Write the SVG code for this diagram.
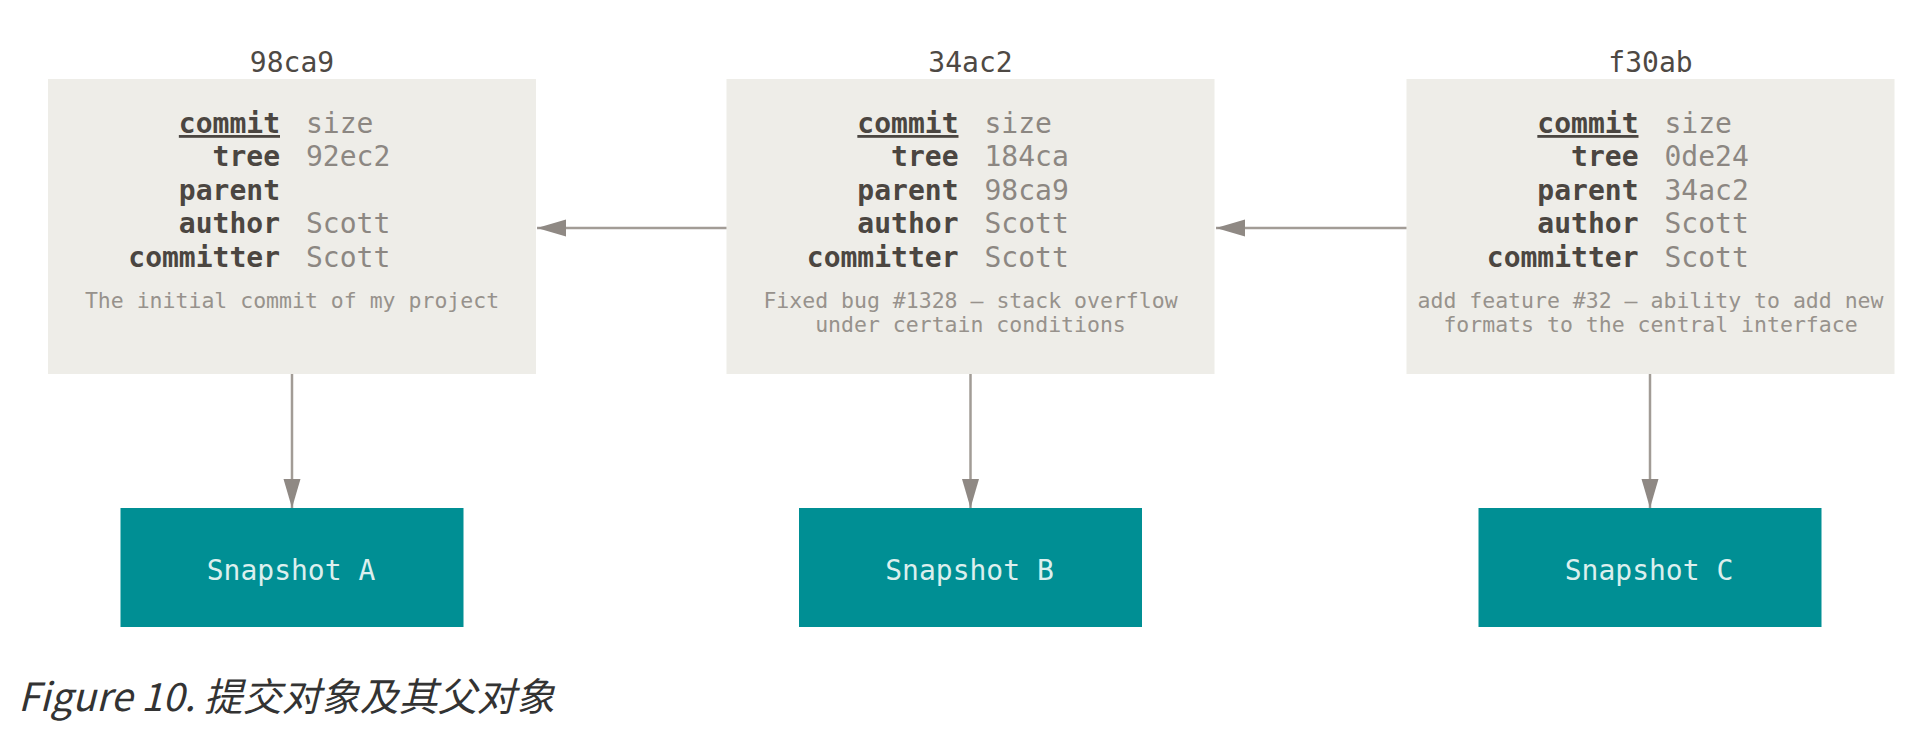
<svg xmlns="http://www.w3.org/2000/svg" width="1924" height="744" viewBox="0 0 1924 744">
  <style>
    .box { fill: #eeede8; }
    .snap { fill: #008f94; }
    .mono { font-family: "DejaVu Sans Mono", "Liberation Mono", monospace; }
    .title { font-size: 28px; fill: #4e4944; text-anchor: middle; }
    .lbl { font-size: 28px; font-weight: bold; fill: #4b4641; text-anchor: end; }
    .val { font-size: 28px; fill: #8c8782; text-anchor: start; }
    .msg { font-size: 21.5px; fill: #97928c; text-anchor: middle; }
    .snaptxt { font-size: 28px; fill: #dcefee; text-anchor: middle; }
    .conn { stroke: #a29c96; stroke-width: 2.5; fill: none; }
    .caption { font-family: "Noto Sans CJK SC", "Noto Sans", sans-serif; font-style: italic; font-weight: 400; font-size: 39px; fill: #333333; }
  </style>
  <defs>
    <marker id="arrow" markerUnits="userSpaceOnUse" markerWidth="30" markerHeight="18" refX="29" refY="8.5" orient="auto">
      <path d="M0,0 L29,8.5 L0,17 Z" fill="#8f8984"/>
    </marker>
  </defs>
  <rect width="1924" height="744" fill="#ffffff"/>

  <g id="commit-98ca9" class="mono">
    <text class="title" x="292" y="72">98ca9</text>
    <rect class="box" x="48" y="79" width="488" height="295"/>
    <text class="lbl" x="280" y="133" text-decoration="underline">commit</text>
    <text class="val" x="306" y="133">size</text>
    <text class="lbl" x="280" y="166">tree</text>
    <text class="val" x="306" y="166">92ec2</text>
    <text class="lbl" x="280" y="199.5">parent</text>
    <text class="lbl" x="280" y="233">author</text>
    <text class="val" x="306" y="233">Scott</text>
    <text class="lbl" x="280" y="266.5">committer</text>
    <text class="val" x="306" y="266.5">Scott</text>
    <text class="msg" x="292" y="308">The initial commit of my project</text>
  </g>

  <g id="commit-34ac2" class="mono">
    <text class="title" x="970.5" y="72">34ac2</text>
    <rect class="box" x="726.5" y="79" width="488" height="295"/>
    <text class="lbl" x="958.5" y="133" text-decoration="underline">commit</text>
    <text class="val" x="984.5" y="133">size</text>
    <text class="lbl" x="958.5" y="166">tree</text>
    <text class="val" x="984.5" y="166">184ca</text>
    <text class="lbl" x="958.5" y="199.5">parent</text>
    <text class="val" x="984.5" y="199.5">98ca9</text>
    <text class="lbl" x="958.5" y="233">author</text>
    <text class="val" x="984.5" y="233">Scott</text>
    <text class="lbl" x="958.5" y="266.5">committer</text>
    <text class="val" x="984.5" y="266.5">Scott</text>
    <text class="msg" x="970.5" y="308">Fixed bug #1328 – stack overflow</text>
    <text class="msg" x="970.5" y="332">under certain conditions</text>
  </g>

  <g id="commit-f30ab" class="mono">
    <text class="title" x="1650.5" y="72">f30ab</text>
    <rect class="box" x="1406.5" y="79" width="488" height="295"/>
    <text class="lbl" x="1638.5" y="133" text-decoration="underline">commit</text>
    <text class="val" x="1664.5" y="133">size</text>
    <text class="lbl" x="1638.5" y="166">tree</text>
    <text class="val" x="1664.5" y="166">0de24</text>
    <text class="lbl" x="1638.5" y="199.5">parent</text>
    <text class="val" x="1664.5" y="199.5">34ac2</text>
    <text class="lbl" x="1638.5" y="233">author</text>
    <text class="val" x="1664.5" y="233">Scott</text>
    <text class="lbl" x="1638.5" y="266.5">committer</text>
    <text class="val" x="1664.5" y="266.5">Scott</text>
    <text class="msg" x="1650.5" y="308">add feature #32 – ability to add new</text>
    <text class="msg" x="1650.5" y="332">formats to the central interface</text>
  </g>

  <g id="snapshot-a" class="mono">
    <rect class="snap" x="120.5" y="508" width="343" height="119"/>
    <text class="snaptxt" x="291" y="579.5">Snapshot A</text>
  </g>
  <g id="snapshot-b" class="mono">
    <rect class="snap" x="799" y="508" width="343" height="119"/>
    <text class="snaptxt" x="969.5" y="579.5">Snapshot B</text>
  </g>
  <g id="snapshot-c" class="mono">
    <rect class="snap" x="1478.5" y="508" width="343" height="119"/>
    <text class="snaptxt" x="1649" y="579.5">Snapshot C</text>
  </g>

  <g id="connectors">
    <line class="conn" x1="726.5" y1="228" x2="537" y2="228" marker-end="url(#arrow)"/>
    <line class="conn" x1="1406.5" y1="228" x2="1216" y2="228" marker-end="url(#arrow)"/>
    <line class="conn" x1="292" y1="374" x2="292" y2="508" marker-end="url(#arrow)"/>
    <line class="conn" x1="970.5" y1="374" x2="970.5" y2="508" marker-end="url(#arrow)"/>
    <line class="conn" x1="1650" y1="374" x2="1650" y2="508" marker-end="url(#arrow)"/>
  </g>

  <text id="caption" class="caption" x="18" y="711">Figure 10. 提交对象及其父对象</text>
</svg>
